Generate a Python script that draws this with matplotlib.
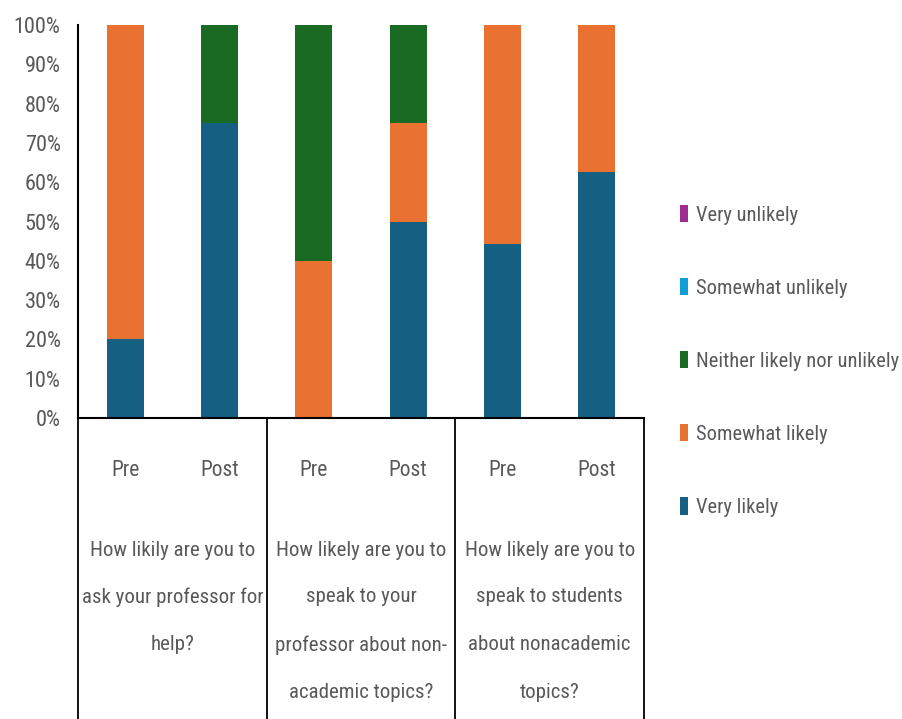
import matplotlib
matplotlib.use("Agg")
import matplotlib.pyplot as plt
from matplotlib.patches import Patch
from matplotlib import font_manager

names = {f.name for f in font_manager.fontManager.ttflist}
cands = ["Liberation Sans Narrow", "Roboto Condensed", "Open Sans Condensed",
         "Noto Sans Condensed", "Arial Narrow", "DejaVu Sans Condensed",
         "Liberation Sans"]
FONT = [f for f in cands if f in names] + ["DejaVu Sans"]
plt.rcParams['font.family'] = FONT
plt.rcParams['font.stretch'] = 'condensed'

# ---- data ----
bar_labels = ["Pre", "Post", "Pre", "Post", "Pre", "Post"]
questions = ["How likily are you to\nask your professor for\nhelp?",
             "How likely are you to\nspeak to your\nprofessor about non-\nacademic topics?",
             "How likely are you to\nspeak to students\nabout nonacademic\ntopics?"]
series = ["Very likely", "Somewhat likely", "Neither likely nor unlikely",
          "Somewhat unlikely", "Very unlikely"]
very_likely = [20.0, 75.0, 0.0, 50.0, 44.4, 62.5]
somewhat_likely = [80.0, 0.0, 40.0, 25.0, 55.6, 37.5]
neither = [0.0, 25.0, 60.0, 25.0, 0.0, 0.0]
somewhat_unlikely = [0.0, 0.0, 0.0, 0.0, 0.0, 0.0]
very_unlikely = [0.0, 0.0, 0.0, 0.0, 0.0, 0.0]
colors = ["#156082", "#E97132", "#196B24", "#0F9ED5", "#A02B93"]
yticks = [0, 10, 20, 30, 40, 50, 60, 70, 80, 90, 100]

TXT = "#595959"
W, H = 903, 719
fig = plt.figure(figsize=(W / 100, H / 100), dpi=100)
L, R, B, T = 78, 644, 418, 25
ax = fig.add_axes([L / W, (H - B) / H, (R - L) / W, (B - T) / H])

x = list(range(len(bar_labels)))
bottom = [0.0] * len(x)
handles = []
for name, vals, c in zip(series, [very_likely, somewhat_likely, neither,
                                  somewhat_unlikely, very_unlikely], colors):
    ax.bar(x, vals, width=0.39, bottom=bottom, color=c, linewidth=0)
    bottom = [b + v for b, v in zip(bottom, vals)]
    handles.append(Patch(facecolor=c, edgecolor='none', label=name))

ax.set_xlim(-0.5, 5.5)
ax.set_ylim(0, 100)
ax.set_yticks(yticks)
ax.set_yticklabels([f"{v}%" for v in yticks], color=TXT, fontsize=16)
ax.tick_params(axis='y', length=0, pad=12.5)
ax.set_xticks([])
for s in ["top", "right"]:
    ax.spines[s].set_visible(False)
ax.spines["left"].set_color("black")
ax.spines["left"].set_linewidth(1.5)
ax.spines["bottom"].set_color("black")
ax.spines["bottom"].set_linewidth(1.5)

tr = ax.get_xaxis_transform()
ybot = -(H - B) / (B - T)
for xv in [-0.5, 1.5, 3.5, 5.5]:
    ax.plot([xv, xv], [0, ybot], color="black", lw=1.3, transform=tr, clip_on=False)

def fy(py):
    return -(py - B) / (B - T)

for xi, lab in zip(x, bar_labels):
    ax.text(xi, fy(470), lab, transform=tr, ha='center', va='center',
            color=TXT, fontsize=15.5)

line_y = [550, 597, 645, 693]
for gi, q in enumerate(questions):
    for li, line in enumerate(q.split("\n")):
        ax.text(2 * gi + 0.5, fy(line_y[li]), line, transform=tr,
                ha='center', va='center', color=TXT, fontsize=15)

leg = fig.legend(handles=handles[::-1], loc='upper left',
                 bbox_to_anchor=(672 / W, 1 - 197 / H), frameon=False,
                 fontsize=14.8, handlelength=0.4, handleheight=0.9,
                 handletextpad=0.35, labelspacing=2.6, borderaxespad=0)
for t in leg.get_texts():
    t.set_color(TXT)

fig.savefig("out.png", dpi=100, facecolor="white")
